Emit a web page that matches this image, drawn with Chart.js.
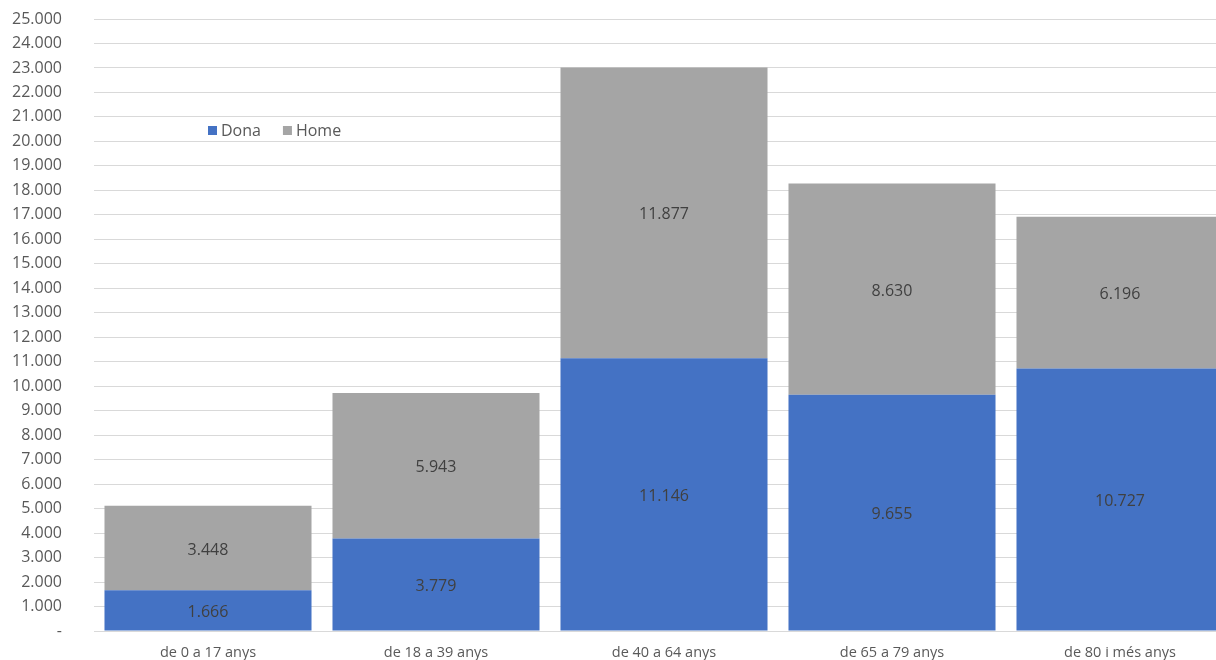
<!DOCTYPE html>
<html lang="ca">
<head>
<meta charset="UTF-8">
<title>Població per edat i sexe</title>
<script src="https://cdn.jsdelivr.net/npm/chart.js"></script>
<style>
    html, body { margin: 0; padding: 0; background: #fff; overflow: hidden; }
</style>
</head>
<body>
<canvas id="chart" width="1234" height="660"></canvas>
<script>
    const categories = ["de 0 a 17 anys", "de 18 a 39 anys", "de 40 a 64 anys", "de 65 a 79 anys", "de 80 i més anys"];
    const dona = [1666, 3779, 11146, 9655, 10727];
    const home = [3448, 5943, 11877, 8630, 6196];
    const yMax = 25000;
    const yStep = 1000;

    const FONT = "'Open Sans', sans-serif";
    const TEXT = "#595959";

    function fmt(v) {
        if (v === 0) return "-";
        return String(v).replace(/\B(?=(\d{3})+(?!\d))/g, ".");
    }

    // values written in the middle of each segment
    const valueLabels = {
        id: "valueLabels",
        afterDatasetsDraw(chart) {
            const ctx = chart.ctx;
            ctx.save();
            ctx.font = "16px " + FONT;
            ctx.fillStyle = "#404040";
            ctx.textAlign = "center";
            ctx.textBaseline = "middle";
            chart.data.datasets.forEach((ds, i) => {
                chart.getDatasetMeta(i).data.forEach((bar, j) => {
                    const p = bar.getProps(["x", "y", "base"], true);
                    ctx.fillText(fmt(ds.data[j]), p.x, (p.y + p.base) / 2 + 2);
                });
            });
            ctx.restore();
        }
    };

    // legend sitting inside the plot, like the original
    const innerLegend = {
        id: "innerLegend",
        afterDraw(chart) {
            const ctx = chart.ctx;
            ctx.save();
            ctx.font = "16px " + FONT;
            ctx.textBaseline = "middle";
            let x = 208, y = 131;
            chart.data.datasets.forEach(ds => {
                ctx.fillStyle = ds.backgroundColor;
                ctx.fillRect(x, y - 5, 9, 9);
                ctx.fillStyle = TEXT;
                ctx.textAlign = "left";
                ctx.fillText(ds.label, x + 13, y);
                x += 13 + ctx.measureText(ds.label).width + 22;
            });
            ctx.restore();
        }
    };

    new Chart(document.getElementById("chart"), {
        type: "bar",
        data: {
            labels: categories,
            datasets: [
                { label: "Dona", data: dona, backgroundColor: "#4472C4", barPercentage: 0.908, categoryPercentage: 1 },
                { label: "Home", data: home, backgroundColor: "#A5A5A5", barPercentage: 0.908, categoryPercentage: 1 }
            ]
        },
        options: {
            responsive: false,
            animation: false,
            layout: { padding: { left: 0, right: 0, top: 19, bottom: 0 } },
            plugins: {
                legend: { display: false },
                tooltip: { enabled: false }
            },
            scales: {
                x: {
                    stacked: true,
                    grid: { display: false, drawTicks: false },
                    border: { color: "#d9d9d9" },
                    afterFit: s => { s.height = 29; },
                    ticks: { color: TEXT, font: { family: FONT, size: 14.5 }, padding: 13 }
                },
                y: {
                    stacked: true,
                    min: 0,
                    max: yMax,
                    grid: { color: "#d9d9d9", drawTicks: false },
                    border: { display: false },
                    afterFit: s => {
                        s.width = 94;
                        s.paddingTop = 0;
                        s.paddingBottom = 0;
                    },
                    ticks: {
                        stepSize: yStep,
                        color: TEXT,
                        font: { family: FONT, size: 16 },
                        padding: 32,
                        callback: v => fmt(v)
                    }
                }
            }
        },
        plugins: [valueLabels, innerLegend]
    });
</script>
</body>
</html>
